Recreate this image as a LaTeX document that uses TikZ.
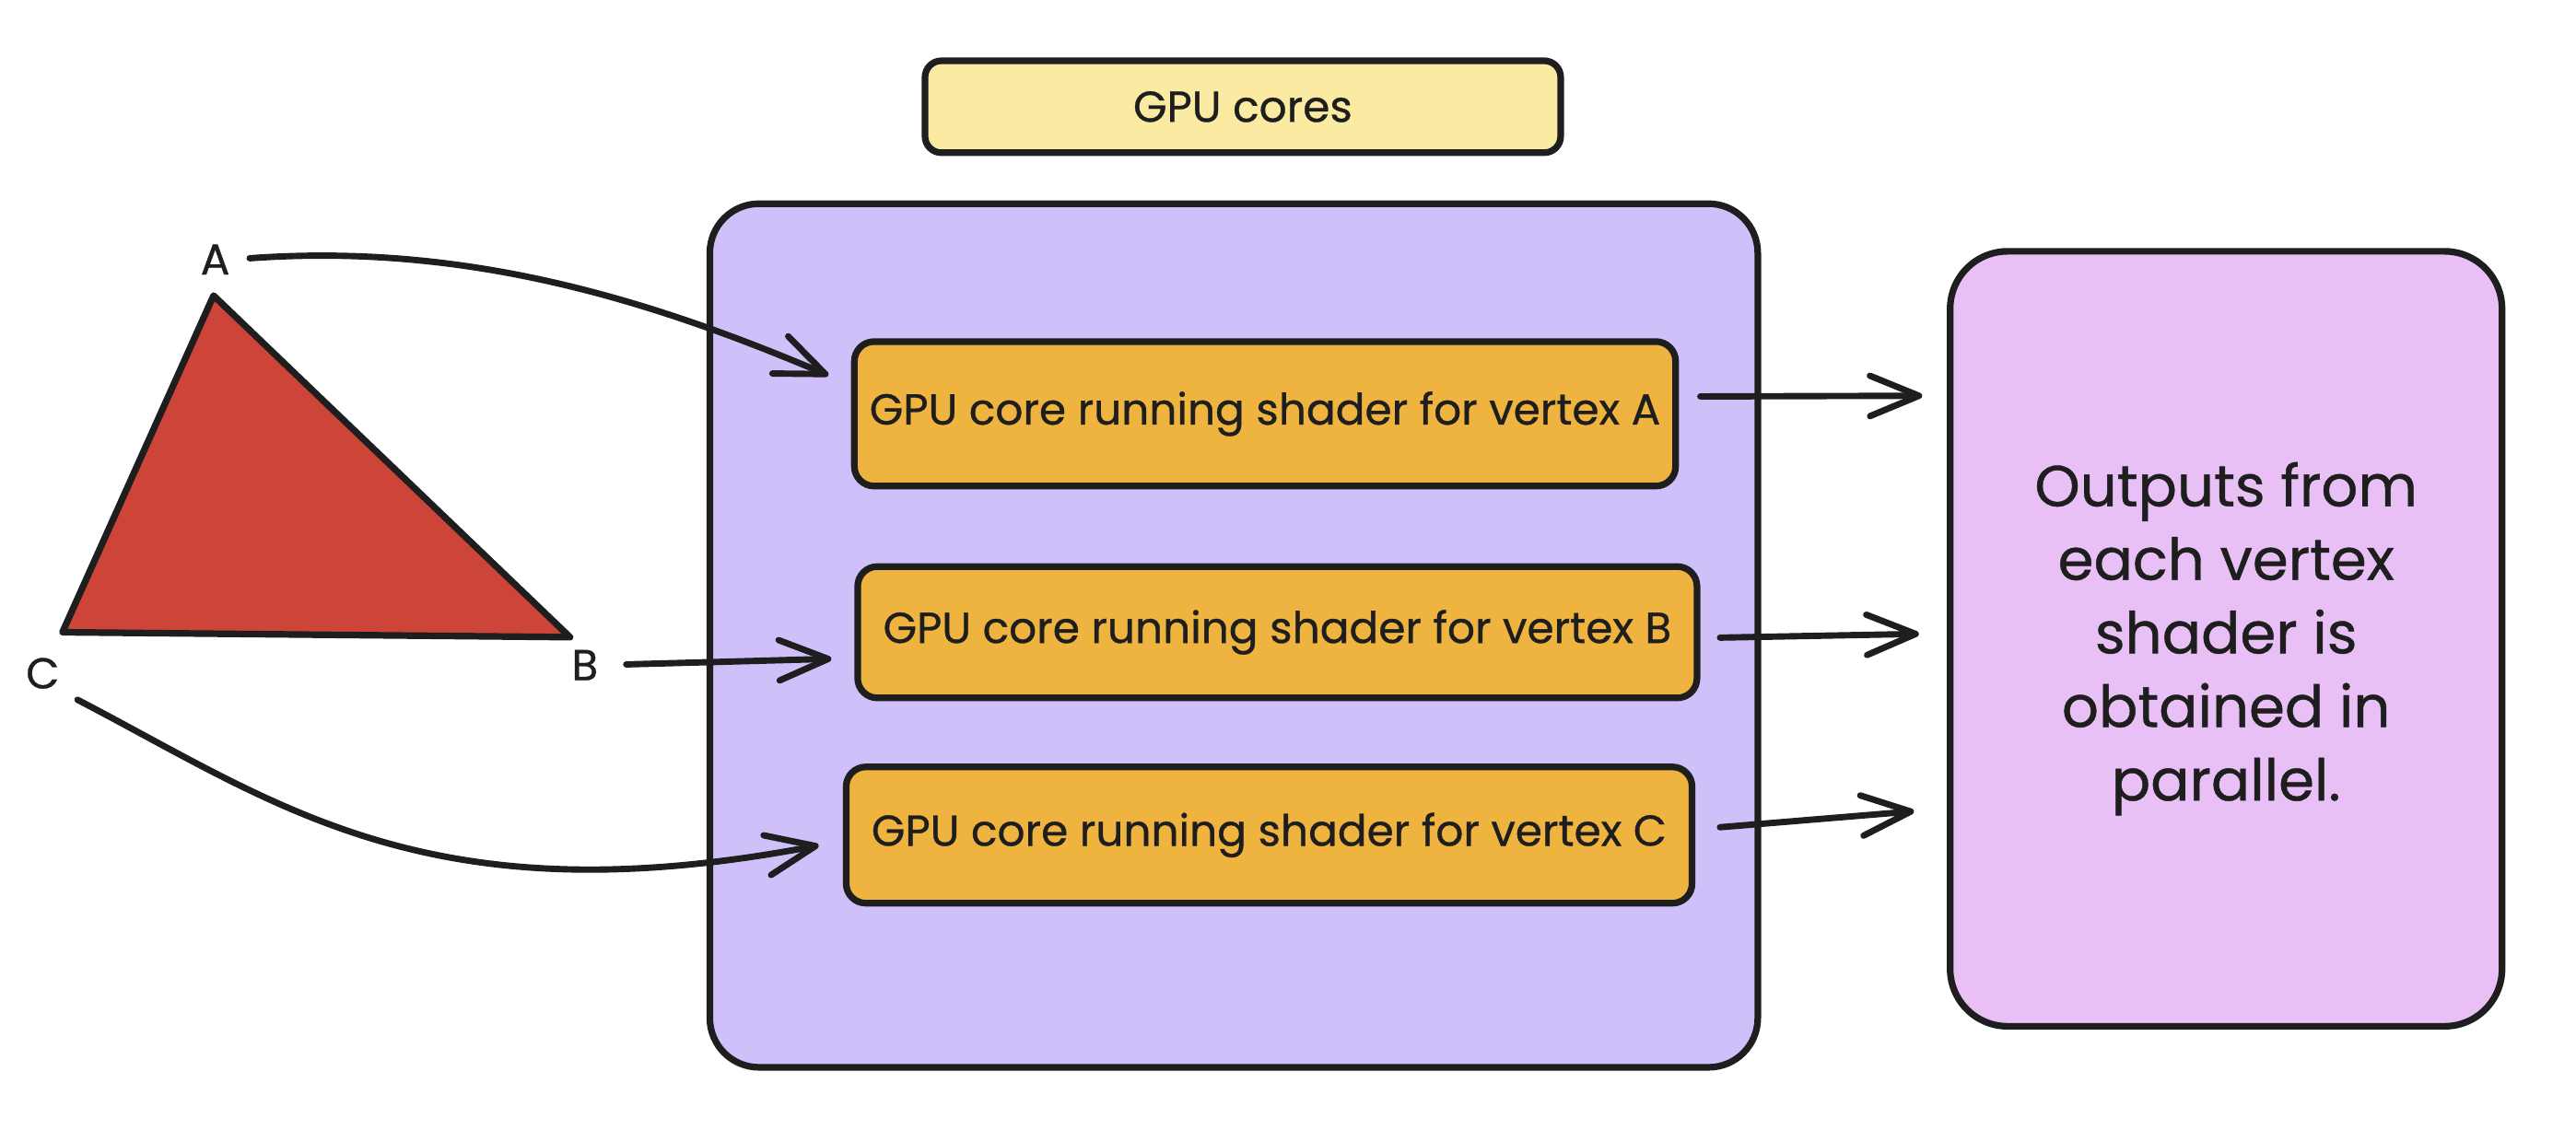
\documentclass[tikz,border=0pt]{standalone}
\usepackage{fontspec}
\setmainfont{Poppins}[BoldFont=Poppins, BoldFeatures={FakeBold=0.7}]
\usetikzlibrary{arrows.meta,calc}
\definecolor{ink}{HTML}{1E1E1E}
\definecolor{paleyellow}{HTML}{FBEAA2}
\definecolor{lilac}{HTML}{D0C0FA}
\definecolor{amber}{HTML}{EFB33F}
\definecolor{orchid}{HTML}{E8C0F6}
\definecolor{brick}{HTML}{CD4439}
\tikzset{
  titlebox/.style={
    rectangle, rounded corners=0.2cm, draw=ink, fill=paleyellow, line width=2.3pt,
    minimum width=7.74cm, minimum height=1.12cm,
    font=\fontsize{15}{18}\selectfont\bfseries, text=ink
  },
  groupbox/.style={
    rectangle, rounded corners=0.6cm, draw=ink, fill=lilac, line width=2.3pt,
    minimum width=12.76cm, minimum height=10.52cm
  },
  corebox/.style={
    rectangle, rounded corners=0.24cm, draw=ink, fill=amber, line width=2.3pt,
    minimum width=#1, minimum height=1.66cm,
    font=\fontsize{15}{18}\selectfont\bfseries, text=ink
  },
  corebox/.default=10.2cm,
  resultbox/.style={
    rectangle, rounded corners=0.7cm, draw=ink, fill=orchid, line width=2.3pt,
    minimum width=6.72cm, minimum height=9.44cm,
    font=\fontsize{20}{25.5}\selectfont\bfseries, text=ink, align=center
  },
  vlabel/.style={
    font=\fontsize{15}{18}\selectfont\bfseries, text=ink, inner sep=1pt
  },
  flow/.style={
    -{Straight Barb[length=17pt,width=14pt,round]}, line width=2.2pt, color=ink,
    line cap=round
  },
}

\begin{document}
\begin{tikzpicture}[x=0.02cm, y=-0.02cm]
\useasboundingbox (0,0) rectangle (1568,688);

% GPU group
\node[titlebox] (gpu) at (756.5,65) {GPU cores};
\node[groupbox] (cores) at (751,387) {};
\node[corebox=10.0cm, minimum height=1.76cm] (coreA) at (770,252) {GPU core running shader for vertex A};
\node[corebox=10.22cm, minimum height=1.6cm] (coreB) at (777.5,385) {GPU core running shader for vertex B};
\node[corebox=10.3cm] (coreC) at (772.5,508.5) {GPU core running shader for vertex C};

% outputs
\node[resultbox] (outbox) at (1355,389) {Outputs from\\each vertex\\shader is\\obtained in\\parallel.};

% triangle
\coordinate (tA) at (130,180);
\coordinate (tB) at (347,388);
\coordinate (tC) at (38,385);
\draw[fill=brick, draw=ink, line width=2.3pt, line join=round] (tA) -- (tB) -- (tC) -- cycle;
\node[vlabel] (labA) at (131,158) {A};
\node[vlabel] (labB) at (356,405) {B};
\node[vlabel] (labC) at (26,410) {C};

% vertices into cores
\draw[flow, shorten <=0.2cm, shorten >=0.3cm] (labA.east) .. controls (280,148) and (390,180) .. ([yshift=10pt]coreA.west);
\draw[flow, shorten <=0.3cm, shorten >=0.28cm] (labB.east) -- ([yshift=-9pt]coreB.west);
\draw[flow, shorten <=0.2cm, shorten >=0.3cm] (labC.south east) .. controls (170,490) and (260,560) .. ([yshift=-2pt]coreC.west);

% cores into outputs
\coordinate (oA) at (1170,241);
\coordinate (oB) at (1168,386);
\coordinate (oC) at (1165,494);
\draw[flow, shorten <=0.26cm] ([yshift=6pt]coreA.east) -- (oA);
\draw[flow, shorten <=0.24cm] ([yshift=-2pt]coreB.east) -- (oB);
\draw[flow, shorten <=0.3cm] ([yshift=2pt]coreC.east) -- (oC);

\end{tikzpicture}
\end{document}
